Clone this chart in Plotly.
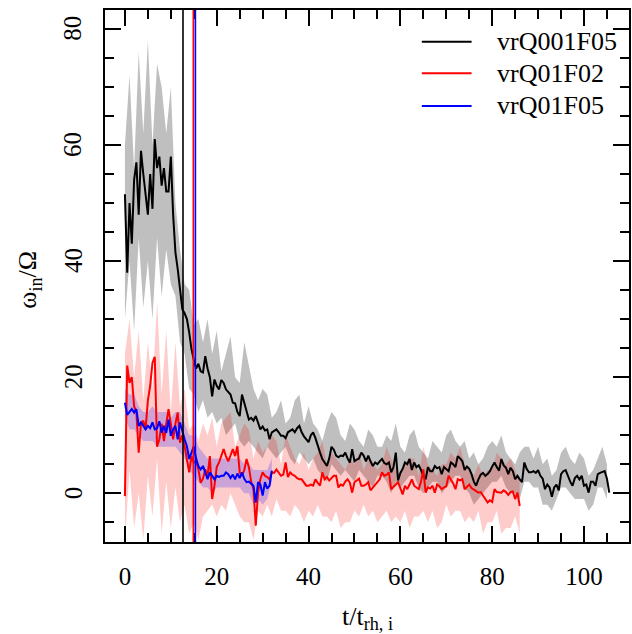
import plotly.graph_objects as go

# mean omega_in/Omega, sampled every 0.5 t_rh,i
w_q001f05 = [51.5, 38, 50, 43, 54, 57, 48, 59, 55, 52, 48, 55, 49, 61, 56, 58, 53, 56, 52, 52,
             58, 48, 41.5, 38.6, 35.5, 31.7, 31, 30, 27.7, 24.8, 23, 21.5, 22.3, 21, 20.8, 23.6, 21.5, 20, 16.7, 19.6,
             18.5, 17.9, 19.5, 19, 17.9, 17.5, 17, 15.6, 15.5, 14, 13.3, 17, 15.5, 14.5, 12.7, 13, 12.5, 13.3, 12, 11,
             11.5, 10.8, 11, 9.3, 10.5, 10.8, 11, 10.5, 9.9, 9.9, 9.5, 10.5, 10.8, 11, 10.5, 11.2, 11.6, 10.5, 9.8, 9.3,
             8.8, 10, 10.5, 9.5, 8, 7, 5.9, 5.2, 4.7, 6, 8, 7.5, 6.5, 6.2, 6.5, 6.4, 7, 6, 5.3, 7.6,
             5.5, 5.8, 6, 7, 6.5, 5.5, 6.5, 5.5, 4.7, 5.3, 5, 5.5, 5.9, 5.2, 5, 5.3, 3.6, 4.5, 7, 2.2,
             3.5, 4.2, 5.3, 5, 5.9, 4, 5.3, 4.5, 4.8, 4, 3, 2.4, 4.5, 3.8, 3.8, 4.7, 4.3, 4.5, 3.3, 4.5,
             4.2, 3.8, 5.3, 5, 4.5, 6.4, 6, 5.5, 4, 4.6, 4.2, 3.3, 2, 1.3, 2.4, 3.2, 3.5, 3, 3.3, 3.8,
             4.6, 5.3, 4.5, 3.9, 5.9, 4.8, 4.4, 3.3, 4.4, 3.8, 2.4, 3, 2.4, 1.9, 5.3, 4.2, 3.6, 3.6, 3.8, 3.5,
             4, 3, 2.5, 0.7, 1.5, 1, -0.6, 1, 1.5, 0.5, 3.3, 3.8, 4, 2.8, 2, 1.3, 2.6, 3, 2.4, 3,
             1.3, 1.5, 0.1, 2, 2, 1.3, 3.3, 3.5, 3.7, 3.8, 2.5, 0.1]
w_q01f02 = [-0.5, 22, 19, 20, 15, 13.9, 7, 12, 12.5, 11, 16, 18.5, 22.5, 23.5, 8, 9.3, 12, 9, 12, 14.5,
            12, 9.3, 12, 13.9, 8.7, 10, 8.1, 5.9, 3.6, 6.4, 5.3, 5.5, 4.1, 1.8, 2.5, 4.1, 3, 6.4, -1, 1.3,
            4.5, 5.3, 6.4, 7.6, 6.4, 5.5, 6.5, 7.6, 6.4, 8.1, 3.6, 3, 4, 5.9, 4.5, 2, 0.7, -5.6, 0.1, 2.4,
            3.6, 3, 2.8, 2.4, 3.6, 3.5, 4.1, 3.5, 3, 3.2, 5.3, 2.8, 3.6, 3.2, 3, 2.6, 2.4, 2.4, 1.8, 1.3,
            1.3, 1.5, 1.3, 2.4, 1.8, 1.3, 3.6, 2.4, 2.8, 2.2, 2.6, 3, 3, 1, 1.5, 1.3, 2, 2.4, 1.8, 0.1,
            1.9, 2.2, 2.5, 1.3, 1.3, 1.5, 1.9, 0.5, 1, 1.3, 2, 2.4, 3.6, 3, 3.2, 3.6, 0.7, 1.2, 1.5, 1.9,
            0.7, -0.2, 1.3, 0.7, 1.5, 2.4, 1.3, 1, 0.7, 2, 4.1, 0.1, 1, 0.8, 1.3, 0.1, 1.5, 1.2, 0.7, 1,
            1.2, 3, 2.4, 1.7, 0.7, 2.4, 2.2, 2.4, 0.7, 1.2, 1.5, 0.9, 0.6, 0.3, 0.1, 0.2, -0.5, -1, -1.6, -1.2,
            -1.5, 0.7, 0.2, 0.1, 0.1, 0.5, 0.2, -0.3, 0.2, 0.3, -1, 0.1, -2.2]
w_q01f05 = [15.6, 13.5, 14, 14.5, 13.9, 14.5, 11.6, 12.2, 11.6, 11, 11.6, 11.2, 12.2, 11, 11.2, 12.4, 10.4, 11.6, 10.4, 12.7,
            9.9, 11, 11.6, 9.3, 12.2, 10.5, 9.3, 8.1, 5.9, 7, 8.1, 6, 4.7, 4.1, 4.7, 3.6, 2.4, 3.6, 3, 2.4,
            3, 2.8, 3, 3, 3.6, 3.3, 2.6, 3.2, 2.4, 3.4, 2.6, 3.6, 2.5, 1.9, 2, 1.6, 1.3, -1.6, 1.9, 1.5,
            -0.4, 1.9, 0.8, 1.3, 3.9]

# scatter band (upper / lower), sampled every 1 t_rh,i
hi_q001f05 = [60, 72, 56, 76, 62, 78, 60, 74, 70, 62, 70, 50,
              42, 36, 35, 29, 30, 26, 30, 24,
              28, 21, 24, 27, 20, 19, 26, 22, 18, 16,
              18, 17, 13, 14, 16, 12, 13, 16, 17, 12,
              15, 12, 11, 9, 12, 14, 13, 10, 9, 12,
              11, 9, 8, 11, 10, 8, 8, 10, 9, 12,
              8, 7, 10, 11, 8, 7, 6, 9, 8, 7,
              10, 11, 9, 8, 9, 6, 7, 5, 6, 8,
              9, 8, 10, 7, 6, 5, 7, 8, 8, 6,
              8, 5, 6, 3, 4, 7, 8, 6, 5, 7,
              6, 3, 4, 6, 8, 5]
lo_q001f05 = [30, 40, 28, 44, 32, 40, 30, 44, 34, 42, 36, 34,
              26, 24, 18, 17, 14, 16, 13, 14,
              12, 13, 10, 11, 12, 9, 8, 9, 8, 7,
              6, 8, 7, 6, 7, 8, 6, 5, 7, 6,
              5, 6, 4, 3, 2, 5, 4, 3, 4, 3,
              2, 4, 3, 2, 1, 3, 3, 2, 0, 2,
              1, 2, 3, 3, 1, 0, 1, 2, 2, 0,
              1, 2, 3, 3, 1, 0, -2, -1, 0, 1,
              2, 2, 3, 1, 0, 0, -1, 2, 2, 1,
              1, -2, -2, -3, -1, 1, 1, 0, -1, -1,
              -1, -3, -2, 1, 1, -1]
hi_q01f02 = [24, 30, 20, 28, 16, 26, 18, 33, 17, 28, 14, 26, 15,
             18, 11, 12, 9, 12, 10, 13,
             8, 12, 13, 14, 8, 10, 12, 11, 6, 9,
             7, 8, 10, 9, 5, 10, 8, 6, 5, 7,
             4, 6, 7, 9, 5, 7, 6, 5, 4, 6,
             5, 7, 4, 6, 5, 4, 5, 8, 6, 4,
             3, 5, 6, 6, 3, 8, 5, 4, 3, 5,
             5, 7, 6, 8, 5, 4, 3, 5, 3, 4,
             4, 7, 6, 5, 6, 4, 2]
lo_q01f02 = [-8, 4, -6, 0, -8, 3, -4, 6, -7, 2, -6, 1, -5,
             -2, -7, -5, -8, -4, -3, -2,
             -4, -2, -3, 0, -2, -4, -5, -5, -8, -3,
             -4, -2, -4, -1, -3, -3, -4, -2, -3, -5,
             -3, -4, -2, -4, -4, -5, -3, -6, -5, -5,
             -3, -4, -2, -4, -3, -5, -4, -3, -5, -4,
             -5, -3, -6, -4, -4, -3, -5, -3, -6, -5,
             -2, -4, -3, -3, -5, -4, -5, -3, -7, -5,
             -5, -3, -7, -6, -6, -4, -7]
hi_q01f05 = [18, 17, 17, 15, 14, 14, 15, 14, 14, 14, 13, 14, 14, 12, 10, 10, 8, 7, 6, 6,
             6, 6, 6, 6, 6, 6, 5, 5, 4, 4, 4, 4, 6]
lo_q01f05 = [13, 11, 11, 10, 9, 9, 9, 8, 8, 8, 8, 8, 7, 6, 4, 3, 2, 1, 1, 0,
             1, 1, 1, 1, 1, 1, 0, 0, -2, -1, -2, -1, 2]

# vertical markers (t/t_rh,i)
t_vline = [12.65, 14.9, 15.35]

y_ticks = [0, 20, 40, 60, 80]

names = ['vrQ001F05', 'vrQ01F02', 'vrQ01F05']
colors = ['black', 'red', 'blue']
band_colors = ['rgba(0,0,0,0.25)', 'rgba(255,0,0,0.2)', 'rgba(0,0,255,0.2)']
means = [w_q001f05, w_q01f02, w_q01f05]
highs = [hi_q001f05, hi_q01f02, hi_q01f05]
lows = [lo_q001f05, lo_q01f02, lo_q01f05]

FONT = 'Liberation Serif'

fig = go.Figure()

for hi, lo, bc in zip(highs, lows, band_colors):
    tb = [float(i) for i in range(len(hi))]
    fig.add_trace(go.Scatter(x=tb, y=lo, mode='lines', line=dict(width=0),
                             showlegend=False, hoverinfo='skip'))
    fig.add_trace(go.Scatter(x=tb, y=hi, mode='lines', line=dict(width=0),
                             fill='tonexty', fillcolor=bc, showlegend=False, hoverinfo='skip'))

for w, c, nm in zip(means, colors, names):
    t = [0.5 * i for i in range(len(w))]
    fig.add_trace(go.Scatter(x=t, y=w, mode='lines', name=nm,
                             line=dict(color=c, width=2), showlegend=False))

for tv, c in zip(t_vline, colors):
    fig.add_vline(x=tv, line=dict(color=c, width=1.6))

# legend drawn by hand to get the long line samples
leg_y = [0.9405, 0.8811, 0.8197]
for ly, c, nm in zip(leg_y, colors, names):
    fig.add_shape(type='line', xref='paper', yref='paper', x0=0.6046, x1=0.6996, y0=ly, y1=ly,
                  line=dict(color=c, width=2))
    fig.add_annotation(xref='paper', yref='paper', x=0.7452, y=ly, text=nm, showarrow=False,
                       xanchor='left', yanchor='middle', font=dict(family=FONT, size=26, color='black'))

# rotated y tick labels (standoff does not move them, so place them directly)
for yt in y_ticks:
    fig.add_annotation(xref='paper', yref='y', x=0, y=yt, xshift=-32, text=str(yt),
                       showarrow=False, xanchor='center', yanchor='middle', textangle=-90,
                       font=dict(family=FONT, size=25, color='black'))

fig.add_annotation(xref='paper', yref='paper', x=0.5, y=-0.142, text='t/t<sub>rh, i</sub>',
                   showarrow=False, xanchor='center', yanchor='middle',
                   font=dict(family=FONT, size=26, color='black'))
fig.add_annotation(xref='paper', yref='paper', x=-0.145, y=0.493, text='ω<sub>in</sub>/Ω',
                   showarrow=False, xanchor='center', yanchor='middle', textangle=-90,
                   font=dict(family=FONT, size=26, color='black'))

axis_style = dict(
    showline=True, linecolor='black', linewidth=2, mirror='ticks',
    ticks='inside', ticklen=16, tickwidth=2, tickcolor='black',
    showgrid=False, zeroline=False,
    tickfont=dict(family=FONT, size=25, color='black'),
    minor=dict(ticks='inside', ticklen=9, tickwidth=2, tickcolor='black', dtick=5, showgrid=False),
)

fig.update_xaxes(range=[-4.34, 109.8], tick0=0, dtick=20, ticklabelstandoff=11, **axis_style)
fig.update_yaxes(range=[-8.4, 83.25], tick0=0, dtick=20, showticklabels=False, **axis_style)

fig.update_layout(
    width=632, height=634,
    margin={'l': 105, 'r': 1, 'b': 91.5, 't': 10, 'pad': 0},
    plot_bgcolor='white', paper_bgcolor='white',
    showlegend=False,
    font=dict(family=FONT, color='black'),
)

# drop the default page margin so the figure sits at the window origin
fig.write_html('out.html', config={'displayModeBar': False},
               post_script="document.body.style.margin='0';")
